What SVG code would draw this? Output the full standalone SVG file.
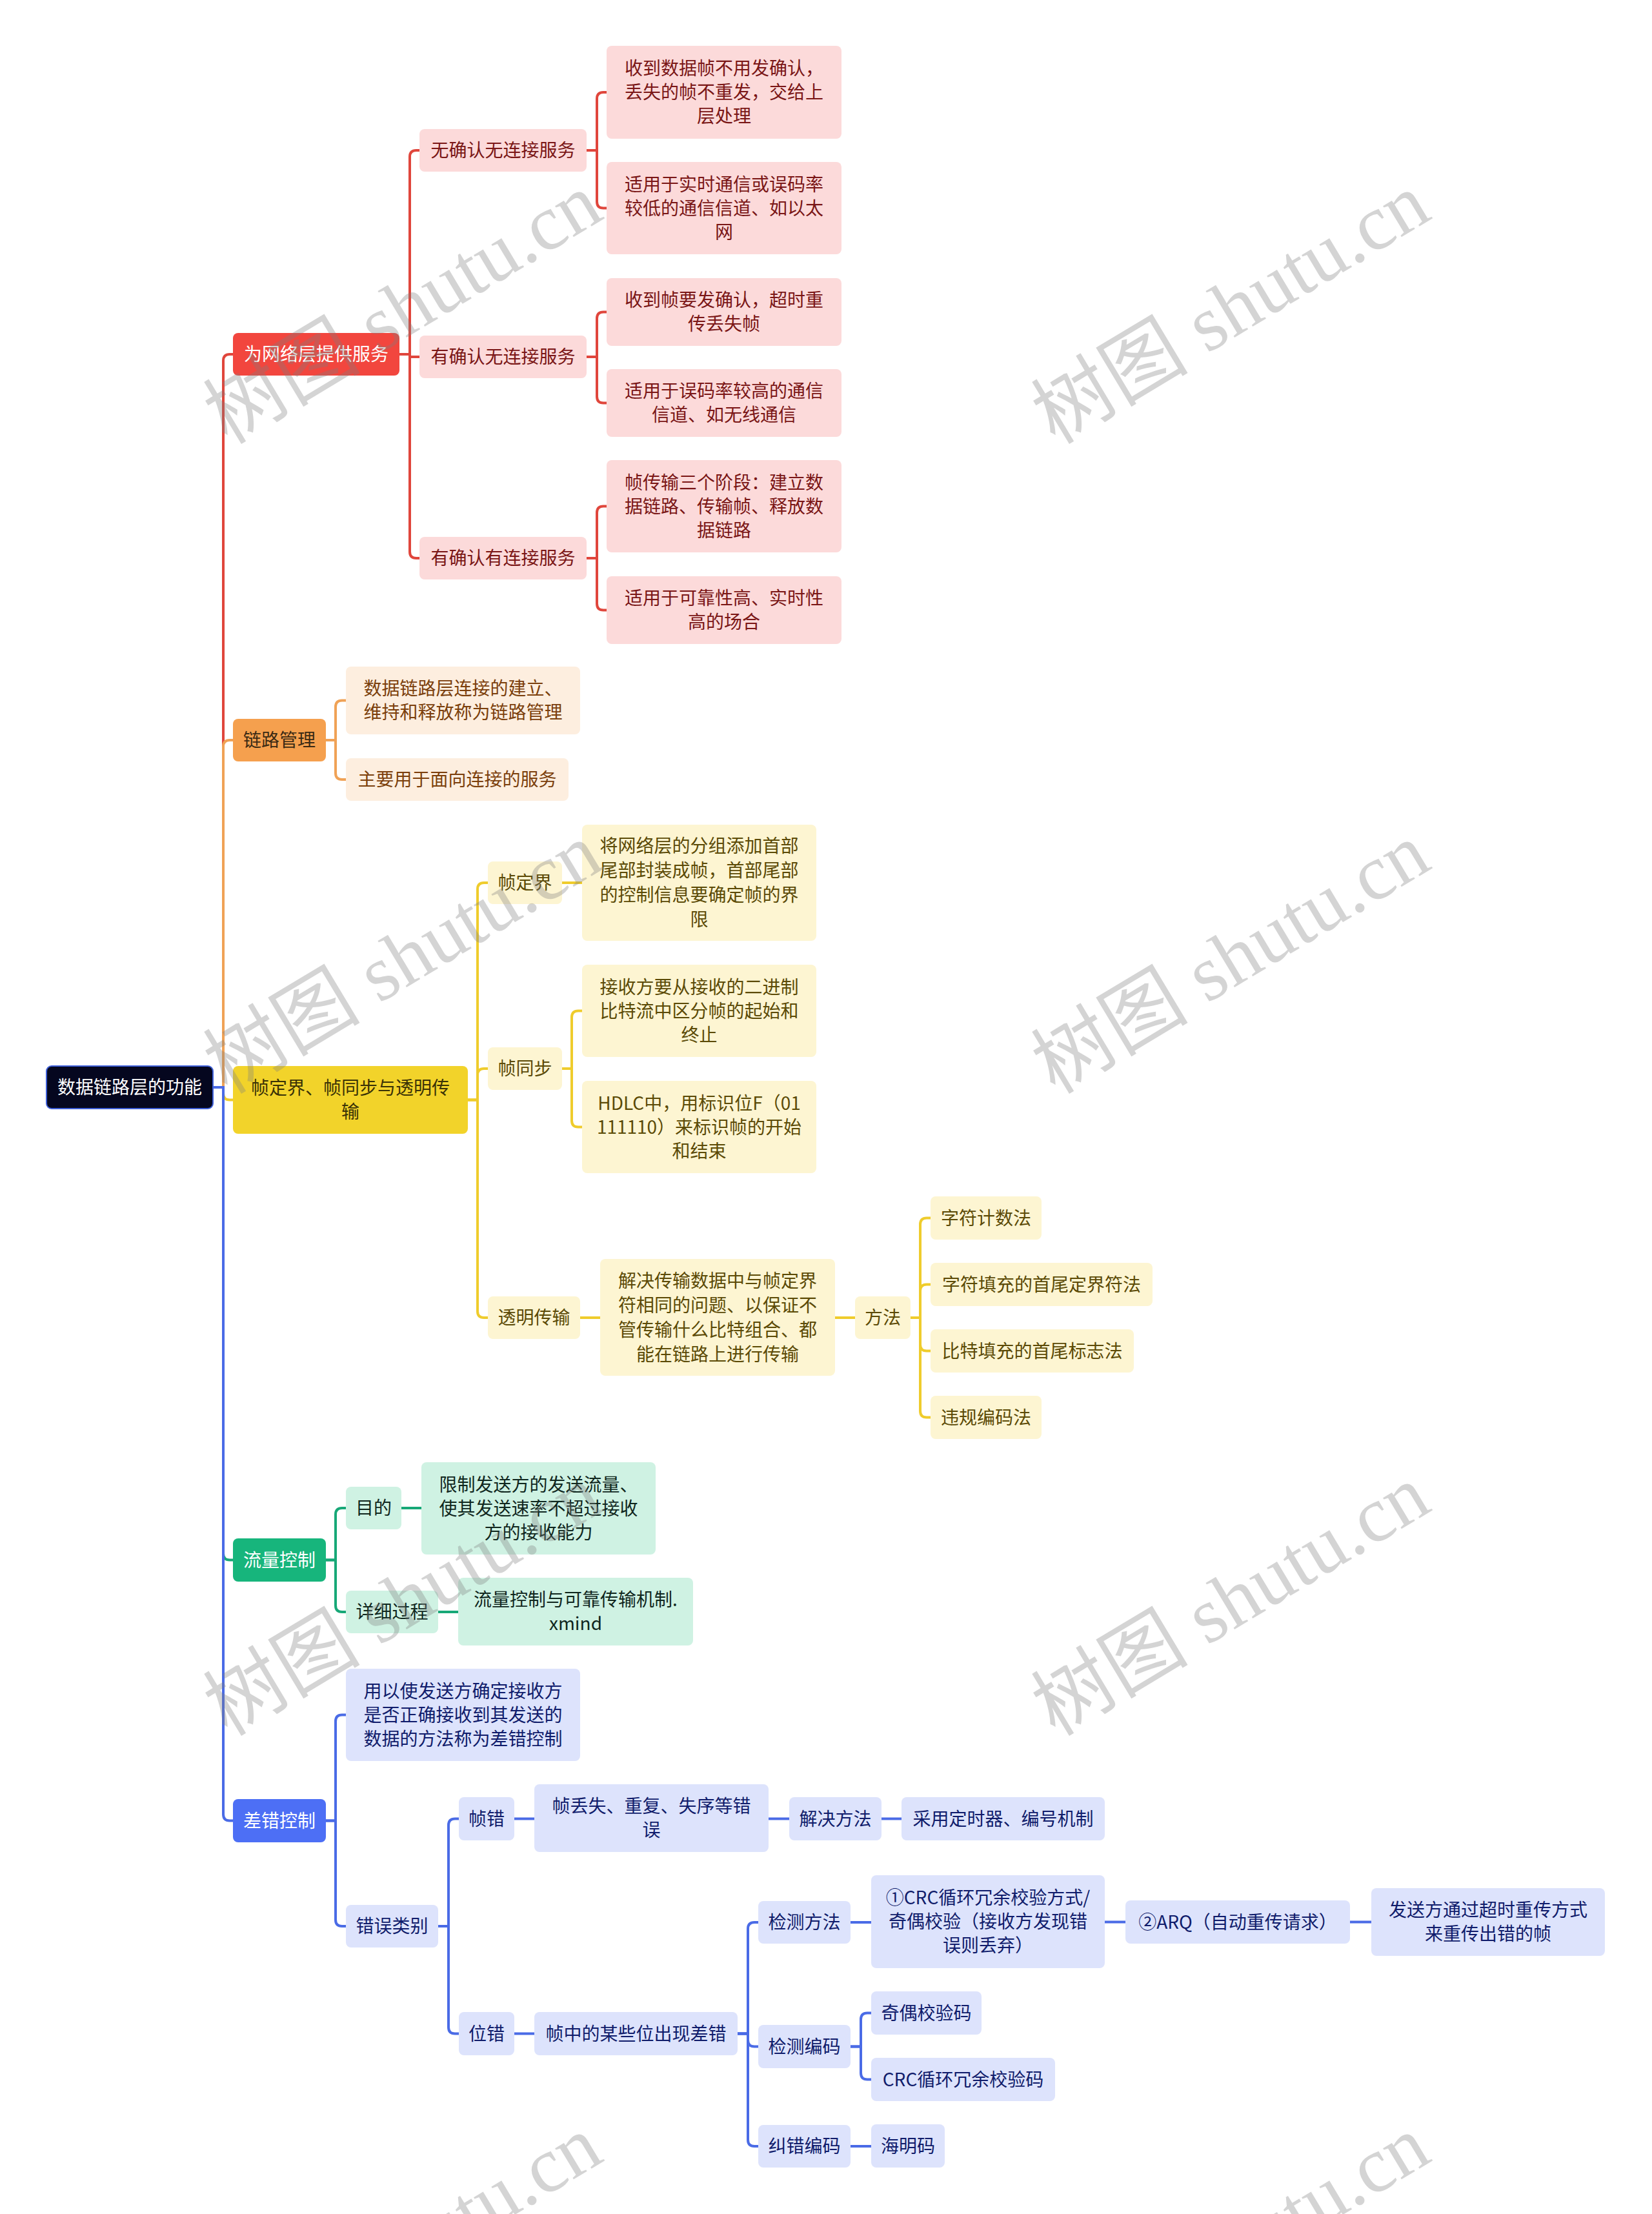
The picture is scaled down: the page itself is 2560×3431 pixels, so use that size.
<svg xmlns="http://www.w3.org/2000/svg" width="2560" height="3431" viewBox="0 0 2560 3431">
<style>
.t{font-family:"Noto Sans CJK SC","Liberation Sans",sans-serif;font-size:28px;text-anchor:middle}
.w{fill:#ffffff}
.c{fill:none;stroke-width:4}
.cr{stroke:#e0463c}.co{stroke:#f0a256}.cy{stroke:#efcc2c}.cg{stroke:#17a877}.cb{stroke:#4a6be6}
.root{fill:#05071f;stroke:#3e5fd8;stroke-width:2}
.mr{fill:#f2463e}.mo{fill:#f5a04e}.my{fill:#f2d32a}.mg{fill:#17b57c}.mb{fill:#4d6ff5}
.lr{fill:#fcdada}.lo{fill:#fdeedf}.ly{fill:#fdf5d2}.lg{fill:#cff2e3}.lb{fill:#dde3fc}
.tr{fill:#7a1616}.to{fill:#7b3f0c}.tom{fill:#3b2a14}.tym{fill:#3a3206}.ty{fill:#5b4a06}.tg{fill:#0f261d}.tb{fill:#101c6b}
.wm{font-family:"Liberation Serif","Noto Sans CJK SC",serif;font-size:122px;fill:#7f7f7f;opacity:.33}
</style>
<rect width="2560" height="3431" fill="#ffffff"/>
<g id="connectors">
<g class="c cr">
<path d="M330 1685 H346 V559 Q346 549 356 549 H361"/>
<path d="M619 549 H635 V243 Q635 233 645 233 H650"/>
<path d="M619 549 H635 V551 Q635 553 637 553 H650"/>
<path d="M619 549 H635 V855 Q635 865 645 865 H650"/>
<path d="M909 233 H925 V153 Q925 143 935 143 H940"/>
<path d="M909 233 H925 V312.5 Q925 322.5 935 322.5 H940"/>
<path d="M909 553 H925 V493.5 Q925 483.5 935 483.5 H940"/>
<path d="M909 553 H925 V614.5 Q925 624.5 935 624.5 H940"/>
<path d="M909 865 H925 V794.5 Q925 784.5 935 784.5 H940"/>
<path d="M909 865 H925 V935.5 Q925 945.5 935 945.5 H940"/>
</g>
<g class="c co">
<path d="M330 1685 H346 V1157 Q346 1147 356 1147 H361"/>
<path d="M505 1147 H520 V1095.5 Q520 1085.5 530 1085.5 H536"/>
<path d="M505 1147 H520 V1198 Q520 1208 530 1208 H536"/>
</g>
<g class="c cy">
<path d="M330 1685 H346 V1694.5 Q346 1704.5 356 1704.5 H361"/>
<path d="M725 1704.5 H740 V1378 Q740 1368 750 1368 H756"/>
<path d="M725 1704.5 H740 V1666 Q740 1656 750 1656 H756"/>
<path d="M725 1704.5 H740 V2032 Q740 2042 750 2042 H756"/>
<path d="M871 1368 H902"/>
<path d="M871 1656 H886 V1576.5 Q886 1566.5 896 1566.5 H902"/>
<path d="M871 1656 H886 V1736.5 Q886 1746.5 896 1746.5 H902"/>
<path d="M899 2042 H930"/>
<path d="M1294 2042 H1325"/>
<path d="M1411 2042 H1426 V1897.5 Q1426 1887.5 1436 1887.5 H1442"/>
<path d="M1411 2042 H1426 V2000.5 Q1426 1990.5 1436 1990.5 H1442"/>
<path d="M1411 2042 H1426 V2083.5 Q1426 2093.5 1436 2093.5 H1442"/>
<path d="M1411 2042 H1426 V2186.5 Q1426 2196.5 1436 2196.5 H1442"/>
</g>
<g class="c cg">
<path d="M330 1685 H346 V2407.5 Q346 2417.5 356 2417.5 H361"/>
<path d="M505 2417.5 H520 V2347 Q520 2337 530 2337 H536"/>
<path d="M505 2417.5 H520 V2488 Q520 2498 530 2498 H536"/>
<path d="M622 2337 H653"/>
<path d="M679 2498 H710"/>
</g>
<g class="c cb">
<path d="M330 1685 H346 V2811.5 Q346 2821.5 356 2821.5 H361"/>
<path d="M505 2821.5 H520 V2667.5 Q520 2657.5 530 2657.5 H536"/>
<path d="M505 2821.5 H520 V2975 Q520 2985 530 2985 H536"/>
<path d="M679 2985 H695 V2828.5 Q695 2818.5 705 2818.5 H711"/>
<path d="M679 2985 H695 V3141.5 Q695 3151.5 705 3151.5 H711"/>
<path d="M797 2818.5 H828"/>
<path d="M1191 2818.5 H1223"/>
<path d="M1366 2818.5 H1397"/>
<path d="M797 3151.5 H828"/>
<path d="M1143 3151.5 H1159 V2989 Q1159 2979 1169 2979 H1175"/>
<path d="M1143 3151.5 H1159 V3161.5 Q1159 3171.5 1169 3171.5 H1175"/>
<path d="M1143 3151.5 H1159 V3316 Q1159 3326 1169 3326 H1175"/>
<path d="M1318 2979 H1350"/>
<path d="M1712 2978.5 H1744"/>
<path d="M2092 2978.5 H2125"/>
<path d="M1318 3171.5 H1334 V3129.5 Q1334 3119.5 1344 3119.5 H1350"/>
<path d="M1318 3171.5 H1334 V3212.5 Q1334 3222.5 1344 3222.5 H1350"/>
<path d="M1318 3326 H1350"/>
</g>
</g>

<g id="root"><rect class="root" x="72" y="1652" width="258" height="66" rx="8"/><text class="t w" x="201" y="1695">数据链路层的功能</text></g>

<g id="n-a"><rect class="mr" x="361" y="516" width="258" height="66" rx="8"/><text class="t w" x="490" y="559">为网络层提供服务</text></g>
<g id="n-a1"><rect class="lr" x="650" y="200" width="259" height="66" rx="8"/><text class="t tr" x="779.5" y="243">无确认无连接服务</text></g>
<g id="n-a1a"><rect class="lr" x="940" y="71" width="364" height="144" rx="8"/><text class="t tr" x="1122" y="116">收到数据帧不用发确认，<tspan x="1122" dy="37">丢失的帧不重发，交给上</tspan><tspan x="1122" dy="37">层处理</tspan></text></g>
<g id="n-a1b"><rect class="lr" x="940" y="251" width="364" height="143" rx="8"/><text class="t tr" x="1122" y="295.5">适用于实时通信或误码率<tspan x="1122" dy="37">较低的通信信道、如以太</tspan><tspan x="1122" dy="37">网</tspan></text></g>
<g id="n-a2"><rect class="lr" x="650" y="520" width="259" height="66" rx="8"/><text class="t tr" x="779.5" y="563">有确认无连接服务</text></g>
<g id="n-a2a"><rect class="lr" x="940" y="431" width="364" height="105" rx="8"/><text class="t tr" x="1122" y="475">收到帧要发确认，超时重<tspan x="1122" dy="37">传丢失帧</tspan></text></g>
<g id="n-a2b"><rect class="lr" x="940" y="572" width="364" height="105" rx="8"/><text class="t tr" x="1122" y="616">适用于误码率较高的通信<tspan x="1122" dy="37">信道、如无线通信</tspan></text></g>
<g id="n-a3"><rect class="lr" x="650" y="832" width="259" height="66" rx="8"/><text class="t tr" x="779.5" y="875">有确认有连接服务</text></g>
<g id="n-a3a"><rect class="lr" x="940" y="713" width="364" height="143" rx="8"/><text class="t tr" x="1122" y="757.5">帧传输三个阶段：建立数<tspan x="1122" dy="37">据链路、传输帧、释放数</tspan><tspan x="1122" dy="37">据链路</tspan></text></g>
<g id="n-a3b"><rect class="lr" x="940" y="893" width="364" height="105" rx="8"/><text class="t tr" x="1122" y="937">适用于可靠性高、实时性<tspan x="1122" dy="37">高的场合</tspan></text></g>

<g id="n-b"><rect class="mo" x="361" y="1114" width="144" height="66" rx="8"/><text class="t tom" x="433" y="1157">链路管理</text></g>
<g id="n-b1"><rect class="lo" x="536" y="1033" width="363" height="105" rx="8"/><text class="t to" x="717.5" y="1077">数据链路层连接的建立、<tspan x="717.5" dy="37">维持和释放称为链路管理</tspan></text></g>
<g id="n-b2"><rect class="lo" x="536" y="1175" width="345" height="66" rx="8"/><text class="t to" x="708.5" y="1218">主要用于面向连接的服务</text></g>

<g id="n-c"><rect class="my" x="361" y="1652" width="364" height="105" rx="8"/><text class="t tym" x="543" y="1696">帧定界、帧同步与透明传<tspan x="543" dy="37">输</tspan></text></g>
<g id="n-c1"><rect class="ly" x="756" y="1335" width="115" height="66" rx="8"/><text class="t ty" x="813.5" y="1378">帧定界</text></g>
<g id="n-c1a"><rect class="ly" x="902" y="1278" width="363" height="180" rx="8"/><text class="t ty" x="1083.5" y="1321">将网络层的分组添加首部<tspan x="1083.5" dy="38">尾部封装成帧，首部尾部</tspan><tspan x="1083.5" dy="38">的控制信息要确定帧的界</tspan><tspan x="1083.5" dy="38">限</tspan></text></g>
<g id="n-c2"><rect class="ly" x="756" y="1623" width="115" height="66" rx="8"/><text class="t ty" x="813.5" y="1666">帧同步</text></g>
<g id="n-c2a"><rect class="ly" x="902" y="1495" width="363" height="143" rx="8"/><text class="t ty" x="1083.5" y="1539.5">接收方要从接收的二进制<tspan x="1083.5" dy="37">比特流中区分帧的起始和</tspan><tspan x="1083.5" dy="37">终止</tspan></text></g>
<g id="n-c2b"><rect class="ly" x="902" y="1675" width="363" height="143" rx="8"/><text class="t ty" x="1083.5" y="1719.5">HDLC中，用标识位F（01<tspan x="1083.5" dy="37">111110）来标识帧的开始</tspan><tspan x="1083.5" dy="37">和结束</tspan></text></g>
<g id="n-c3"><rect class="ly" x="756" y="2009" width="143" height="66" rx="8"/><text class="t ty" x="827.5" y="2052">透明传输</text></g>
<g id="n-c3a"><rect class="ly" x="930" y="1951" width="364" height="181" rx="8"/><text class="t ty" x="1112" y="1994.5">解决传输数据中与帧定界<tspan x="1112" dy="38">符相同的问题、以保证不</tspan><tspan x="1112" dy="38">管传输什么比特组合、都</tspan><tspan x="1112" dy="38">能在链路上进行传输</tspan></text></g>
<g id="n-c3b"><rect class="ly" x="1325" y="2009" width="86" height="66" rx="8"/><text class="t ty" x="1368" y="2052">方法</text></g>
<g id="n-c3b1"><rect class="ly" x="1442" y="1854" width="172" height="67" rx="8"/><text class="t ty" x="1528" y="1897.5">字符计数法</text></g>
<g id="n-c3b2"><rect class="ly" x="1442" y="1957" width="344" height="67" rx="8"/><text class="t ty" x="1614" y="2000.5">字符填充的首尾定界符法</text></g>
<g id="n-c3b3"><rect class="ly" x="1442" y="2060" width="315" height="67" rx="8"/><text class="t ty" x="1599.5" y="2103.5">比特填充的首尾标志法</text></g>
<g id="n-c3b4"><rect class="ly" x="1442" y="2163" width="172" height="67" rx="8"/><text class="t ty" x="1528" y="2206.5">违规编码法</text></g>

<g id="n-d"><rect class="mg" x="361" y="2384" width="144" height="67" rx="8"/><text class="t w" x="433" y="2427.5">流量控制</text></g>
<g id="n-d1"><rect class="lg" x="536" y="2304" width="86" height="66" rx="8"/><text class="t tg" x="579" y="2347">目的</text></g>
<g id="n-d1a"><rect class="lg" x="653" y="2266" width="363" height="143" rx="8"/><text class="t tg" x="834.5" y="2310.5">限制发送方的发送流量、<tspan x="834.5" dy="37">使其发送速率不超过接收</tspan><tspan x="834.5" dy="37">方的接收能力</tspan></text></g>
<g id="n-d2"><rect class="lg" x="536" y="2465" width="143" height="66" rx="8"/><text class="t tg" x="607.5" y="2508">详细过程</text></g>
<g id="n-d2a"><rect class="lg" x="710" y="2445" width="364" height="105" rx="8"/><text class="t tg" x="892" y="2489">流量控制与可靠传输机制.<tspan x="892" dy="37">xmind</tspan></text></g>

<g id="n-e"><rect class="mb" x="361" y="2788" width="144" height="67" rx="8"/><text class="t w" x="433" y="2831.5">差错控制</text></g>
<g id="n-e1"><rect class="lb" x="536" y="2586" width="363" height="143" rx="8"/><text class="t tb" x="717.5" y="2630.5">用以使发送方确定接收方<tspan x="717.5" dy="37">是否正确接收到其发送的</tspan><tspan x="717.5" dy="37">数据的方法称为差错控制</tspan></text></g>
<g id="n-e2"><rect class="lb" x="536" y="2952" width="143" height="66" rx="8"/><text class="t tb" x="607.5" y="2995">错误类别</text></g>
<g id="n-e2a"><rect class="lb" x="711" y="2785" width="86" height="67" rx="8"/><text class="t tb" x="754" y="2828.5">帧错</text></g>
<g id="n-e2a1"><rect class="lb" x="828" y="2765" width="363" height="105" rx="8"/><text class="t tb" x="1009.5" y="2809">帧丢失、重复、失序等错<tspan x="1009.5" dy="37">误</tspan></text></g>
<g id="n-e2a2"><rect class="lb" x="1223" y="2785" width="143" height="67" rx="8"/><text class="t tb" x="1294.5" y="2828.5">解决方法</text></g>
<g id="n-e2a3"><rect class="lb" x="1397" y="2785" width="315" height="67" rx="8"/><text class="t tb" x="1554.5" y="2828.5">采用定时器、编号机制</text></g>
<g id="n-e2b"><rect class="lb" x="711" y="3118" width="86" height="67" rx="8"/><text class="t tb" x="754" y="3161.5">位错</text></g>
<g id="n-e2b1"><rect class="lb" x="828" y="3118" width="315" height="67" rx="8"/><text class="t tb" x="985.5" y="3161.5">帧中的某些位出现差错</text></g>
<g id="n-e2b1a"><rect class="lb" x="1175" y="2946" width="143" height="66" rx="8"/><text class="t tb" x="1246.5" y="2989">检测方法</text></g>
<g id="n-e2b1a1"><rect class="lb" x="1350" y="2906" width="362" height="144" rx="8"/><text class="t tb" x="1531" y="2951">①CRC循环冗余校验方式/<tspan x="1531" dy="37">奇偶校验（接收方发现错</tspan><tspan x="1531" dy="37">误则丢弃）</tspan></text></g>
<g id="n-e2b1a2"><rect class="lb" x="1744" y="2945" width="348" height="67" rx="8"/><text class="t tb" x="1918" y="2988.5">②ARQ（自动重传请求）</text></g>
<g id="n-e2b1a3"><rect class="lb" x="2125" y="2926" width="362" height="105" rx="8"/><text class="t tb" x="2306" y="2970">发送方通过超时重传方式<tspan x="2306" dy="37">来重传出错的帧</tspan></text></g>
<g id="n-e2b1b"><rect class="lb" x="1175" y="3138" width="143" height="67" rx="8"/><text class="t tb" x="1246.5" y="3181.5">检测编码</text></g>
<g id="n-e2b1b1"><rect class="lb" x="1350" y="3086" width="171" height="67" rx="8"/><text class="t tb" x="1435.5" y="3129.5">奇偶校验码</text></g>
<g id="n-e2b1b2"><rect class="lb" x="1350" y="3189" width="285" height="67" rx="8"/><text class="t tb" x="1492.5" y="3232.5">CRC循环冗余校验码</text></g>
<g id="n-e2b1c"><rect class="lb" x="1175" y="3293" width="143" height="66" rx="8"/><text class="t tb" x="1246.5" y="3336">纠错编码</text></g>
<g id="n-e2b1c1"><rect class="lb" x="1350" y="3292" width="114" height="67" rx="8"/><text class="t tb" x="1407" y="3335.5">海明码</text></g>

<g id="watermarks">
<text class="wm" x="352" y="690" transform="rotate(-31 352 690)">树图 shutu.cn</text>
<text class="wm" x="1635" y="690" transform="rotate(-31 1635 690)">树图 shutu.cn</text>
<text class="wm" x="352" y="1697" transform="rotate(-31 352 1697)">树图 shutu.cn</text>
<text class="wm" x="1635" y="1697" transform="rotate(-31 1635 1697)">树图 shutu.cn</text>
<text class="wm" x="352" y="2692" transform="rotate(-31 352 2692)">树图 shutu.cn</text>
<text class="wm" x="1635" y="2692" transform="rotate(-31 1635 2692)">树图 shutu.cn</text>
<text class="wm" x="352" y="3700" transform="rotate(-31 352 3700)">树图 shutu.cn</text>
<text class="wm" x="1635" y="3700" transform="rotate(-31 1635 3700)">树图 shutu.cn</text>
</g>
</svg>
